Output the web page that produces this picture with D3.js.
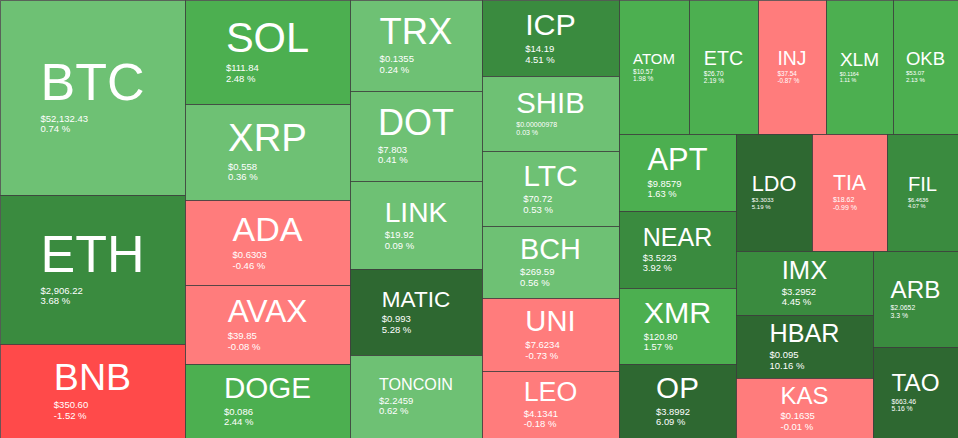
<!DOCTYPE html>
<html>
<head>
<meta charset="utf-8">
<script src="https://cdn.jsdelivr.net/npm/d3@7"></script>
<style>
  html, body { margin: 0; padding: 0; background: #fff; }
  svg { display: block; }
  text { font-family: "Liberation Sans", Arial, Helvetica, sans-serif; fill: #fff; }
</style>
</head>
<body>
<svg id="chart" width="958" height="438"></svg>
<script>
const symbols = ["BTC","ETH","BNB","SOL","XRP","ADA","AVAX","DOGE","TRX","DOT","LINK","MATIC","TONCOIN","ICP","SHIB","LTC","BCH","UNI","LEO","ATOM","ETC","INJ","XLM","OKB","APT","NEAR","XMR","OP","LDO","TIA","FIL","IMX","HBAR","KAS","ARB","TAO"];
const weights = [36075,27658,17335,17210,15840,14025,12986,12210,11985,11893,11550,11287,10971,10394,10339,10256,9968,10023,9158,9380,9246,9072,9058,8670,9044,8939,8927,8658,8892,8775,8307,8749,8571,8243,8163,7788];
const prices = ["$52,132.43","$2,906.22","$350.60","$111.84","$0.558","$0.6303","$39.85","$0.086","$0.1355","$7.803","$19.92","$0.993","$2.2459","$14.19","$0.00000978","$70.72","$269.59","$7.6234","$4.1341","$10.57","$26.70","$37.54","$0.1164","$53.07","$9.8579","$3.5223","$120.80","$3.8992","$3.3033","$18.62","$6.4636","$3.2952","$0.095","$0.1635","$2.0652","$663.46"];
const changes = [0.74,3.68,-1.52,2.48,0.36,-0.46,-0.08,2.44,0.24,0.41,0.09,5.28,0.62,4.51,0.03,0.53,0.56,-0.73,-0.18,1.98,2.19,-0.87,1.11,2.13,1.63,3.92,1.57,6.09,5.19,-0.99,4.07,4.45,10.16,-0.01,3.3,5.16];
// number of cells in each successive strip of the squarified layout
const rowSizes = [3,5,5,6,5,4,3,3,1,1];

const W = 958, H = 438;
const svg = d3.select("#chart");

const color = d3.scaleThreshold()
  .domain([-1, 0, 1, 3, 5])
  .range(["#ff4a4a", "#ff7c7c", "#6ec174", "#4caf50", "#3a8b3f", "#2e6831"]);

const data = {
  name: "root",
  children: symbols.map((s, i) => ({ name: s, value: weights[i], price: prices[i], change: changes[i] }))
};

// squarified strips with fixed strip membership, built from d3's dice / slice tilers
function stripTile(parent, x0, y0, x1, y1) {
  const nodes = parent.children;
  let value = parent.value, i = 0;
  for (const n of rowSizes) {
    const kids = nodes.slice(i, i + n); i += n;
    const sum = d3.sum(kids, d => d.value);
    const dx = x1 - x0, dy = y1 - y0;
    const row = { children: kids, value: sum };
    if (dx < dy) {
      const y = y0 + dy * sum / value;
      d3.treemapDice(row, x0, y0, x1, y);
      y0 = y;
    } else {
      const x = x0 + dx * sum / value;
      d3.treemapSlice(row, x0, y0, x, y1);
      x0 = x;
    }
    value -= sum;
  }
}

const root = d3.hierarchy(data).sum(d => d.value || 0);
d3.treemap().size([W, H]).tile(stripTile).round(true)(root);

const leaves = root.leaves();

// measuring helper
const meas = svg.append("text").attr("x", -1000).attr("y", -1000);
function textW(str, size) {
  meas.attr("font-size", size).text(str);
  return meas.node().getComputedTextLength();
}

const cell = svg.selectAll("g.cell").data(leaves).join("g").attr("class", "cell");

cell.append("rect")
  .attr("x", d => d.x0 + 0.5)
  .attr("y", d => d.y0 + 0.5)
  .attr("width", d => Math.max(0, d.x1 - d.x0))
  .attr("height", d => Math.max(0, d.y1 - d.y0))
  .attr("fill", d => color(d.data.change))
  .attr("stroke", "#3a3a3a")
  .attr("stroke-opacity", 0.75)
  .attr("stroke-width", 1);

cell.each(function(d) {
  const g = d3.select(this);
  const w = d.x1 - d.x0, h = d.y1 - d.y0;
  const cx = d.x0 + w / 2, cy = d.y0 + h / 2;
  const f = Math.min(w / (1.17 * d.data.name.length), 0.4 * h, 52);
  const t1 = textW(d.data.name, 100) / 100;
  const pctStr = d.data.change + " %";
  const s = Math.min(9.5, 0.56 * w / d.data.price.length);
  const gap = 0.22 * f + 1.05 * s;
  const step = 1.12 * s;
  const base = cy + (0.72 * f - gap - step) / 2;
  const left = cx - t1 * f / 2;

  g.append("text")
    .attr("x", cx).attr("y", base)
    .attr("text-anchor", "middle")
    .attr("font-size", f)
    .text(d.data.name);
  g.append("text")
    .attr("x", left).attr("y", base + gap)
    .attr("font-size", s)
    .text(d.data.price);
  g.append("text")
    .attr("x", left).attr("y", base + gap + step)
    .attr("font-size", s)
    .text(pctStr);
});

meas.remove();
</script>
</body>
</html>
